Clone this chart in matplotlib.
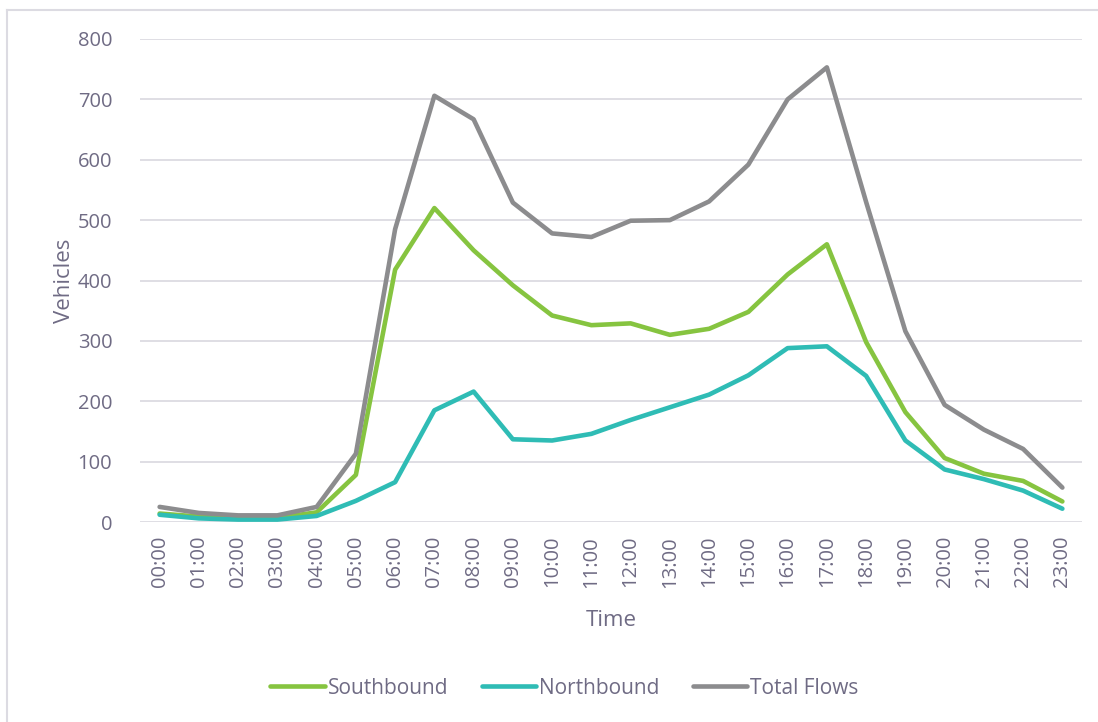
import matplotlib.pyplot as plt
import matplotlib.lines as mlines

hours = ['%02d:00' % h for h in range(24)]

southbound = [14, 9, 7, 7, 16, 78, 418, 520, 450, 392, 342, 326,
              329, 310, 320, 348, 410, 460, 298, 182, 106, 80, 68, 34]
northbound = [12, 6, 4, 4, 10, 35, 66, 185, 216, 137, 135, 146,
              169, 190, 211, 243, 288, 291, 242, 135, 87, 71, 52, 22]
total_flows = [25, 15, 11, 11, 25, 113, 485, 706, 667, 529, 478, 472,
               499, 500, 531, 592, 700, 753, 530, 316, 194, 153, 121, 57]

text_col = '#6f6b84'
plt.rcParams['font.family'] = ['Open Sans', 'DejaVu Sans']

fig = plt.figure(figsize=(10.98, 7.22), dpi=100)
ax = fig.add_axes([140 / 1098, 1 - 522 / 722, 942 / 1098, 483 / 722])

x = list(range(24))
ax.plot(x, southbound, color='#86c440', lw=3.3, label='Southbound',
        solid_capstyle='round', solid_joinstyle='round')
ax.plot(x, northbound, color='#2fbcb5', lw=3.3, label='Northbound',
        solid_capstyle='round', solid_joinstyle='round')
ax.plot(x, total_flows, color='#8c8c8e', lw=3.3, label='Total Flows',
        solid_capstyle='round', solid_joinstyle='round')

ax.set_xlim(-0.5, 23.5)
ax.set_ylim(0, 800)
ax.set_yticks(range(0, 801, 100))
ax.set_xticks(x)
ax.set_xticklabels(hours, rotation=90)
ax.grid(axis='y', color='#dcdbe2', lw=1.3)
ax.set_axisbelow(True)
for s in ax.spines.values():
    s.set_visible(False)
ax.tick_params(length=0, labelsize=14.5, colors=text_col, pad=10)
ax.tick_params(axis='y', pad=20)

ax.set_ylabel('Vehicles', fontsize=16, color=text_col, labelpad=2)
ax.set_xlabel('Time', fontsize=16, color=text_col, labelpad=16)

leg = fig.legend(loc='center', bbox_to_anchor=(0.514, 1 - 688 / 722), ncol=3,
                 frameon=False, fontsize=15, handlelength=2.6,
                 handletextpad=0.15, columnspacing=1.6)
for t in leg.get_texts():
    t.set_color(text_col)

# chart area border (only top and left visible)
fig.add_artist(mlines.Line2D([7 / 1098, 7 / 1098], [0, 1 - 10 / 722],
                             transform=fig.transFigure, color='#dcdbe2', lw=1.5))
fig.add_artist(mlines.Line2D([7 / 1098, 1.0], [1 - 10 / 722, 1 - 10 / 722],
                             transform=fig.transFigure, color='#dcdbe2', lw=1.5))

fig.savefig('out.png', dpi=100)
